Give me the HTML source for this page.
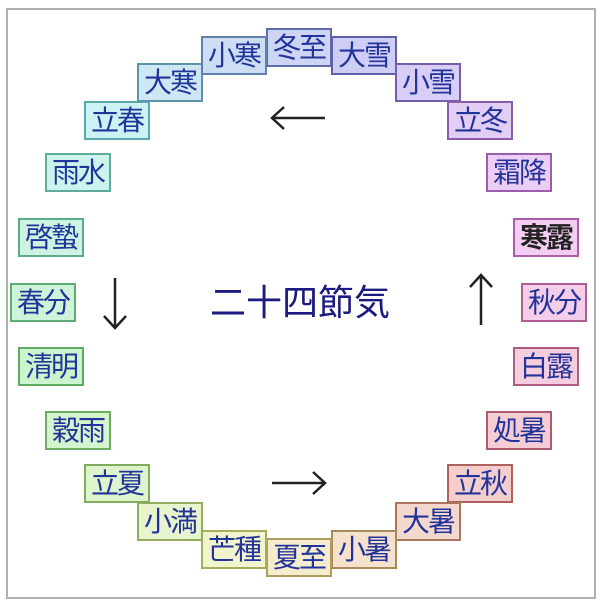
<!DOCTYPE html>
<html><head><meta charset="utf-8"><style>
body{margin:0;width:600px;height:606px;background:#fff;position:relative;overflow:hidden;font-family:"Liberation Sans","Noto Sans CJK JP",sans-serif}
.frame{position:absolute;left:6px;top:8px;width:586px;height:587px;border:2px solid #b0b0b0}
.b{position:absolute;width:62px;height:35px;border:2px solid;font-size:28px;line-height:35px;text-align:center;color:#22349a;letter-spacing:-2px;white-space:nowrap;overflow:hidden}
.t{position:absolute;left:0;width:600px;top:274px;text-align:center;font-size:36px;color:#1a1a80}
</style></head><body>
<div class="frame"></div>
<div class="t">二十四節気</div>
<svg width="600" height="606" style="position:absolute;left:0;top:0" fill="none" stroke="#222" stroke-width="2.5">
<path d="M272 118H325M284 107L272 118L284 129"/>
<path d="M272 483H325M313 472L325 483L313 494"/>
<path d="M115 278V328M104 316L115 328L126 316"/>
<path d="M481 275V325M470 287L481 275L492 287"/>
</svg>
<div id="c"></div>
<script>
var d=[["冬至",266,28],["大雪",331,36],["小雪",395,63],["立冬",447,101],["霜降",486,153],["寒露",513,218],["秋分",521,283],["白露",513,347],["処暑",486,411],["立秋",447,464],["大暑",395,502],["小暑",331,530],["夏至",266,538],["芒種",201,530],["小満",137,502],["立夏",84,464],["穀雨",45,411],["清明",18,347],["春分",10,283],["啓蟄",18,218],["雨水",45,153],["立春",84,101],["大寒",137,63],["小寒",201,36]];
var h='';
d.forEach(function(e,k){var hu=(228+15*k)%360;
var ex=e[0]=="寒露"?"color:#222;font-weight:bold;":"";
h+='<div class="b" style="left:'+e[1]+'px;top:'+e[2]+'px;background:hsl('+hu+',65%,88%);border-color:hsl('+hu+',32%,52%);'+ex+'">'+e[0]+'</div>';});
document.getElementById('c').innerHTML=h;
</script>
</body></html>
